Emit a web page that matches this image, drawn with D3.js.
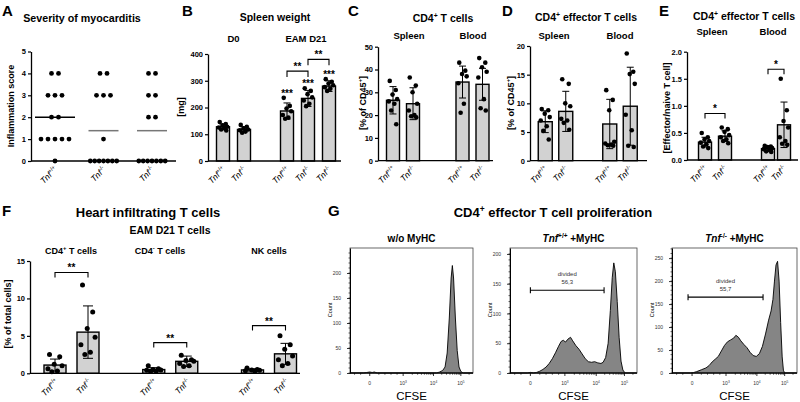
<!DOCTYPE html>
<html><head><meta charset="utf-8">
<script src="https://cdn.jsdelivr.net/npm/d3@7"></script>
<style>body{margin:0;background:#fff;}</style>
</head><body>
<svg id="fig" width="800" height="402"></svg>
<script>
// ---------------- DATA ----------------
// A: inflammation scores (individual animals)
const aGroups = ["g1", "g2", "g3"];
const aGeno = ["+/+", "-/-", "-/-"];
const aScores = [
  [4, 4, 3, 3, 3, 2, 2, 1, 1, 1, 1, 1, 0],
  [4, 4, 3, 3, 3, 1, 0, 0, 0, 0, 0, 0, 0],
  [4, 4, 3, 3, 2, 2, 0, 0, 0, 0, 0, 0, 0]
];
const aTicks = [0, 1, 2, 3, 4, 5];

// B: spleen weight [mg]
const bGroups = ["D0", "EAM D21"];
const bGroupOf = ["D0", "D0", "EAM D21", "EAM D21", "EAM D21"];
const bGeno = ["+/+", "-/-", "+/+", "-/-", "-/-"];
const bMean = [128, 118, 187, 234, 280];
const bSD = [10, 10, 30, 30, 20];
const bPoints = [
  [146, 138, 133, 128, 125, 122, 118, 114],
  [135, 128, 122, 118, 115, 110, 106],
  [236, 206, 196, 186, 172, 162, 158],
  [272, 262, 250, 238, 226, 214, 205],
  [306, 296, 290, 283, 276, 270, 262]
];
const bStars = ["", "", "***", "***", "***"];
const bSigFrom = [2, 3], bSigTo = [3, 4], bSigLevel = [336, 380], bSigLabel = ["**", "**"];
const bTicks = [0, 100, 200, 300, 400];

// C: CD4+ T cells [% of CD45+]
const cGroups = ["Spleen", "Blood"];
const cGroupOf = ["Spleen", "Spleen", "Blood", "Blood"];
const cGeno = ["+/+", "-/-", "+/+", "-/-"];
const cMean = [26.5, 25, 34.5, 33.5];
const cSD = [6, 7, 7, 7];
const cPoints = [
  [35, 31, 29, 27, 26, 25, 22, 16],
  [36.5, 33, 30, 25, 22, 20, 19.5, 19],
  [43, 39.5, 38, 37, 34, 25, 21],
  [45, 43, 41, 39, 36.5, 27, 23, 22]
];
const cTicks = [0, 10, 20, 30, 40, 50];

// D: CD4+ effector T cells [% of CD45+]
const dMean = [6.8, 8.6, 6.4, 9.5];
const dSD = [1.9, 3.5, 4.3, 6.8];
const dPoints = [
  [9.0, 8.8, 8.2, 7.6, 7.0, 6.0, 5.2, 3.7],
  [14.2, 13.4, 10.0, 9.5, 7.3, 7.0, 6.6, 5.4],
  [12.3, 10.6, 8.8, 3.3, 3.0, 2.8, 2.7, 2.6],
  [18.7, 15.5, 15.1, 13.4, 8.0, 5.3, 2.6, 2.4]
];
const dTicks = [0, 5, 10, 15, 20];

// E: effector / naive ratio
const eMean = [0.33, 0.44, 0.21, 0.65];
const eSD = [0.09, 0.1, 0.05, 0.42];
const ePoints = [
  [0.5, 0.42, 0.38, 0.35, 0.32, 0.29, 0.25, 0.22],
  [0.6, 0.57, 0.52, 0.46, 0.42, 0.38, 0.35, 0.31],
  [0.26, 0.25, 0.24, 0.22, 0.2, 0.18, 0.16, 0.15],
  [1.5, 0.92, 0.72, 0.6, 0.42, 0.35, 0.3, 0.28]
];
const eSigFrom = [0, 2], eSigTo = [1, 3], eSigLevel = [0.86, 1.675], eSigLabel = ["*", "*"];
const eTicks = [0, 0.5, 1.0, 1.5, 2.0];

// F: heart infiltrating cells [% of total cells]
const fGroups = ["CD4+", "CD4-", "NK"];
const fGroupOf = ["CD4+", "CD4+", "CD4-", "CD4-", "NK", "NK"];
const fGeno = ["+/+", "-/-", "+/+", "-/-", "+/+", "-/-"];
const fMean = [1.1, 5.5, 0.5, 1.6, 0.45, 2.6];
const fSD = [0.8, 3.5, 0.25, 0.7, 0.15, 1.4];
const fPoints = [
  [2.5, 2.2, 1.2, 1.0, 0.6, 0.3, 0.2],
  [11.8, 8.2, 6.0, 4.8, 3.8, 2.8, 2.5],
  [1.0, 0.6, 0.5, 0.45, 0.4, 0.3, 0.25],
  [2.4, 1.8, 1.7, 1.6, 1.3, 1.0, 0.9],
  [0.7, 0.5, 0.45, 0.4, 0.35, 0.3],
  [5.0, 3.8, 3.2, 2.3, 1.8, 1.3, 1.0]
];
const fSigFrom = [0, 2, 4], fSigTo = [1, 3, 5], fSigLevel = [13.47, 4.1, 6.37], fSigLabel = ["**", "**", "**"];
const fTicks = [0, 5, 10, 15];

// G: CFSE histograms  [position on biexponential axis, count]
const gTickPos = [0, 1.1, 2.1, 3.0];
const gTickLab = [["0", ""], ["10", "3"], ["10", "4"], ["10", "5"]];
const hist1 = [[-0.65,0],[-0.2,0],[-0.1,1],[0,2],[0.08,1],[0.15,2],[0.25,0],[2.2,0],[2.3,2],[2.4,5],[2.48,12],[2.55,40],[2.62,110],[2.68,190],[2.72,215],[2.76,190],[2.82,110],[2.88,45],[2.94,12],[3.0,3],[3.08,0],[3.4,0]];
const hist2 = [[-0.65,0],[-0.1,0],[0,1],[0.1,0],[0.2,1],[0.3,3],[0.4,6],[0.5,10],[0.6,16],[0.7,24],[0.8,34],[0.9,45],[0.98,53],[1.05,55],[1.12,52],[1.2,57],[1.28,60],[1.35,54],[1.45,46],[1.55,40],[1.65,32],[1.75,24],[1.85,19],[1.95,18],[2.05,19],[2.15,17],[2.25,16],[2.32,18],[2.4,26],[2.48,50],[2.55,105],[2.61,160],[2.66,185],[2.71,170],[2.77,120],[2.83,60],[2.89,20],[2.95,5],[3.02,0],[3.4,0]];
const hist3 = [[-0.65,0],[-0.05,0],[0.05,1],[0.15,3],[0.3,7],[0.45,11],[0.55,16],[0.65,24],[0.75,30],[0.85,36],[0.95,48],[1.05,60],[1.15,68],[1.25,72],[1.35,76],[1.42,82],[1.5,78],[1.58,70],[1.68,62],[1.78,55],[1.88,45],[1.98,38],[2.08,36],[2.18,42],[2.28,58],[2.38,85],[2.48,115],[2.56,135],[2.62,160],[2.67,200],[2.72,235],[2.77,243],[2.82,200],[2.87,110],[2.92,35],[2.96,6],[3.0,0],[3.4,0]];
const gYMax = [250, 210, 272];
const gYTicks = [[0,50,100,150,200],[0,50,100,150,200],[0,50,100,150,200,250]];
const gGate = [null, [0, 2.35, 139], [-0.13, 2.3, 165]];
const gDivided = [null, "56,3", "55,7"];

// ---------------- DRAWING ----------------
const FONT = "'Liberation Sans', Arial, Helvetica, sans-serif";
const svg = d3.select("#fig").attr("font-family", FONT);

function rich(sel, parts, size) {
  let shifted = false;
  parts.forEach(p => {
    const ts = sel.append("tspan").text(p.t);
    if (p.i) ts.attr("font-style", "italic");
    if (p.sup) { ts.attr("font-size", size * 0.65).attr("dy", -size * 0.4); shifted = true; }
    else if (shifted) { ts.attr("dy", size * 0.4); shifted = false; }
  });
}
function txt(parent, x, y, parts, size, opts = {}) {
  const t = parent.append("text").attr("x", x).attr("y", y).attr("font-size", size)
    .attr("text-anchor", opts.anchor || "middle")
    .attr("font-weight", opts.bold === false ? "normal" : "bold")
    .attr("fill", "#000");
  if (opts.rot) t.attr("transform", `rotate(${opts.rot},${x},${y})`);
  rich(t, typeof parts === "string" ? [{ t: parts }] : parts, size);
  return t;
}
function genoLabel(parent, x, y, sup) {
  const t = parent.append("text").attr("transform", `translate(${x},${y}) rotate(-45)`)
    .attr("text-anchor", "end").attr("font-size", 8.5).attr("fill", "#000");
  rich(t, [{ t: "Tnf", i: true }, { t: sup, sup: true }], 8.5);
}
function styleAxis(ga) {
  ga.select(".domain").attr("stroke-width", 1.3).attr("stroke", "#000");
  ga.selectAll(".tick line").attr("stroke-width", 1.2).attr("stroke", "#000");
  ga.selectAll(".tick text").attr("font-size", 7.5).attr("font-weight", "bold")
    .attr("font-family", FONT).attr("fill", "#000");
}
function bracket(g, x1, x2, yv, label, drop) {
  g.append("path").attr("d", `M${x1},${yv + drop}V${yv}H${x2}V${yv + drop}`)
    .attr("fill", "none").attr("stroke", "#000").attr("stroke-width", 1.1);
  g.append("text").attr("x", (x1 + x2) / 2).attr("y", yv - 1).attr("text-anchor", "middle")
    .attr("font-size", 10).attr("font-weight", "bold").text(label);
}

// Panel letters
[["A", 2, 16], ["B", 182, 16], ["C", 348, 16], ["D", 502, 16], ["E", 659, 16], ["F", 2, 216], ["G", 328, 216]]
  .forEach(([l, x, y]) => txt(svg, x, y, l, 15, { anchor: "start" }));

// ---------- Panel A ----------
(function () {
  const g = svg.append("g");
  const y = d3.scaleLinear().domain([0, 5]).range([161, 51.5]);
  const x = d3.scalePoint().domain(aGroups).range([55, 152]);
  const ga = g.append("g").attr("transform", "translate(31,0)")
    .call(d3.axisLeft(y).tickValues(aTicks).tickFormat(d3.format("d")).tickSize(3).tickSizeOuter(0).tickPadding(2));
  styleAxis(ga);
  g.append("line").attr("x1", 31).attr("x2", 176).attr("y1", y(0)).attr("y2", y(0)).attr("stroke", "#000").attr("stroke-width", 1.3);
  aScores.forEach((arr, gi) => {
    const cx = x(aGroups[gi]);
    const counts = d3.rollup(arr, v => v.length, d => d);
    counts.forEach((n, val) => {
      const sp = n >= 6 ? 4.4 : 7;
      for (let k = 0; k < n; k++) {
        g.append("circle").attr("cx", cx + (k - (n - 1) / 2) * sp).attr("cy", y(val)).attr("r", 2.4).attr("fill", "#000");
      }
    });
    const m = d3.mean(arr);
    g.append("line").attr("x1", cx - (gi === 0 ? 20 : 15)).attr("x2", cx + (gi === 0 ? 20 : 15))
      .attr("y1", y(m)).attr("y2", y(m)).attr("stroke", gi === 0 ? "#000" : "#777").attr("stroke-width", 1.5);
    genoLabel(g, cx + 3, 170, aGeno[gi]);
  });
  txt(g, 82, 22, "Severity of myocarditis", 10.7);
  txt(g, 14, 106, "Inflammation score", 9, { rot: -90 });
})();

// ---------- generic bar panel ----------
function barPanel(p) {
  const g = svg.append("g");
  const y = d3.scaleLinear().domain(p.yDomain).range(p.yRange);
  const outer = d3.scalePoint().domain(p.groups).range(p.groupRange);
  const xOf = i => {
    const grp = p.groupOf[i];
    const members = p.groupOf.map((gg, j) => gg === grp ? j : -1).filter(j => j >= 0);
    const half = (members.length - 1) / 2 * (p.steps ? p.steps[p.groups.indexOf(grp)] : p.step);
    const inner = d3.scalePoint().domain(members).range([-half, half]);
    return outer(grp) + inner(i);
  };
  const ga = g.append("g").attr("transform", `translate(${p.x0},0)`)
    .call(d3.axisLeft(y).tickValues(p.ticks).tickFormat(p.fmt || d3.format("d")).tickSize(3).tickSizeOuter(0).tickPadding(2));
  styleAxis(ga);
  p.means.forEach((m, i) => {
    const cx = xOf(i);
    g.append("rect").attr("x", cx - p.bw / 2).attr("y", y(m)).attr("width", p.bw).attr("height", y(0) - y(m))
      .attr("fill", "#d2d2d2").attr("stroke", "#000").attr("stroke-width", 1.4);
  });
  g.append("line").attr("x1", p.x0).attr("x2", p.x1).attr("y1", y(0)).attr("y2", y(0)).attr("stroke", "#000").attr("stroke-width", 1.3);
  const jit = [-3.5, 3, -0.5, 4.5, -4.5, 1.5, -2, 3.5, 0];
  p.points.forEach((arr, i) => {
    const cx = xOf(i);
    arr.forEach((v, j) => g.append("circle").attr("cx", cx + jit[j % jit.length] * p.bw / 14).attr("cy", y(v))
      .attr("r", p.r || 2.3).attr("fill", "#000"));
  });
  p.means.forEach((m, i) => {
    const cx = xOf(i), sd = p.sds[i], cw = p.cap || 3.5;
    g.append("line").attr("x1", cx).attr("x2", cx).attr("y1", y(Math.max(0, m - sd))).attr("y2", y(m + sd)).attr("stroke", "#000").attr("stroke-width", 1);
    [m + sd, m - sd].forEach(v => { if (v > 0) g.append("line").attr("x1", cx - cw).attr("x2", cx + cw).attr("y1", y(v)).attr("y2", y(v)).attr("stroke", "#000").attr("stroke-width", 1); });
    genoLabel(g, cx + (p.lx || 3), y(0) + 9, p.geno[i]);
  });
  if (p.stars) p.stars.forEach((s, i) => {
    if (!s) return;
    const top = d3.max([p.means[i] + p.sds[i], d3.max(p.points[i])]);
    g.append("text").attr("x", xOf(i)).attr("y", y(top) - 1).attr("text-anchor", "middle")
      .attr("font-size", 10).attr("font-weight", "bold").text(s);
  });
  if (p.sigFrom) p.sigFrom.forEach((f, k) => bracket(g, xOf(f), xOf(p.sigTo[k]), y(p.sigLevel[k]), p.sigLabel[k], p.drop || 6));
  return { g, y, xOf, outer };
}

// ---------- Panel B ----------
(function () {
  const P = barPanel({ groups: bGroups, groupOf: bGroupOf, groupRange: [233.5, 308], step: 21, bw: 13,
    yDomain: [0, 400], yRange: [161, 54], ticks: bTicks, x0: 208, x1: 341, means: bMean, sds: bSD, points: bPoints,
    geno: bGeno, stars: bStars, sigFrom: bSigFrom, sigTo: bSigTo, sigLevel: bSigLevel, sigLabel: bSigLabel });
  txt(P.g, 275, 21, "Spleen weight", 10.5);
  txt(P.g, 233.5, 42, "D0", 9.5);
  txt(P.g, 306, 42, "EAM D21", 9.5);
  txt(P.g, 184, 107, "[mg]", 9, { rot: -90 });
})();

// ---------- Panel C ----------
(function () {
  const P = barPanel({ groups: cGroups, groupOf: cGroupOf, groupRange: [403, 472.5], step: 20, bw: 13,
    yDomain: [0, 50], yRange: [160.7, 46.7], ticks: cTicks, x0: 378, x1: 493, means: cMean, sds: cSD, points: cPoints, geno: cGeno });
  txt(P.g, 443, 22, [{ t: "CD4" }, { t: "+", sup: true }, { t: " T cells" }], 10.5);
  txt(P.g, 409, 39, "Spleen", 9.5);
  txt(P.g, 473, 39, "Blood", 9.5);
  txt(P.g, 366, 103, [{ t: "[% of CD45" }, { t: "+", sup: true }, { t: "]" }], 9, { rot: -90 });
})();

// ---------- Panel D ----------
(function () {
  const P = barPanel({ groups: cGroups, groupOf: cGroupOf, groupRange: [555.5, 620], step: 20.5, bw: 14,
    yDomain: [0, 20], yRange: [160.7, 46], ticks: dTicks, x0: 530, x1: 647, means: dMean, sds: dSD, points: dPoints, geno: cGeno });
  txt(P.g, 586, 21, [{ t: "CD4" }, { t: "+", sup: true }, { t: " effector T cells" }], 10.5);
  txt(P.g, 554, 39, "Spleen", 9.5);
  txt(P.g, 620, 39, "Blood", 9.5);
  txt(P.g, 514, 103, [{ t: "[% of CD45" }, { t: "+", sup: true }, { t: "]" }], 9, { rot: -90 });
})();

// ---------- Panel E ----------
(function () {
  const P = barPanel({ groups: cGroups, groupOf: cGroupOf, groupRange: [715, 776], steps: [20, 16], bw: 13,
    yDomain: [0, 2], yRange: [160, 51.7], ticks: eTicks, fmt: d3.format(".1f"), x0: 687, x1: 798,
    means: eMean, sds: eSD, points: ePoints, geno: cGeno,
    sigFrom: eSigFrom, sigTo: eSigTo, sigLevel: eSigLevel, sigLabel: eSigLabel, drop: 5 });
  txt(P.g, 744, 20, [{ t: "CD4" }, { t: "+", sup: true }, { t: " effector T cells" }], 10.5);
  txt(P.g, 712, 35, "Spleen", 9.5);
  txt(P.g, 773, 35, "Blood", 9.5);
  txt(P.g, 670, 108, "[Effector/naive T cell]", 9, { rot: -90 });
})();

// ---------- Panel F ----------
(function () {
  const P = barPanel({ groups: fGroups, groupOf: fGroupOf, groupRange: [71.5, 269], step: 33, bw: 22, r: 2.5, cap: 5,
    yDomain: [0, 15], yRange: [373.3, 261], ticks: fTicks, x0: 30, x1: 300, means: fMean, sds: fSD, points: fPoints, geno: fGeno,
    sigFrom: fSigFrom, sigTo: fSigTo, sigLevel: fSigLevel, sigLabel: fSigLabel, drop: 5, lx: 4 });
  txt(P.g, 148, 217, "Heart infiltrating T cells", 13);
  txt(P.g, 170, 234, "EAM D21 T cells", 10.5);
  txt(P.g, 71, 254, [{ t: "CD4" }, { t: "+", sup: true }, { t: " T cells" }], 9);
  txt(P.g, 160, 254, [{ t: "CD4" }, { t: "-", sup: true }, { t: " T cells" }], 9);
  txt(P.g, 269, 254, "NK cells", 9);
  txt(P.g, 11, 314, "[% of total cells]", 9, { rot: -90 });
})();

// ---------- Panel G ----------
txt(svg, 553, 217, [{ t: "CD4" }, { t: "+", sup: true }, { t: " effector T cell proliferation" }], 13);
function histPanel(k, left, right, data, title) {
  const top = 248, bottom = 373;
  const g = svg.append("g");
  const x = d3.scaleLinear().domain([-0.65, 3.4]).range([left, right]);
  const y = d3.scaleLinear().domain([0, gYMax[k]]).range([bottom, top]);
  g.append("path").datum(data)
    .attr("d", d3.area().x(d => x(d[0])).y0(y(0)).y1(d => y(d[1])))
    .attr("fill", "#858585").attr("stroke", "#000").attr("stroke-width", 0.9);
  g.append("rect").attr("x", left).attr("y", top).attr("width", right - left).attr("height", bottom - top)
    .attr("fill", "none").attr("stroke", "#444").attr("stroke-width", 0.8);
  // y axis ticks
  const ay = g.append("g").attr("transform", `translate(${left},0)`)
    .call(d3.axisLeft(y).tickValues(gYTicks[k]).tickFormat(d3.format("d")).tickSize(3).tickSizeOuter(0).tickPadding(6));
  ay.select(".domain").attr("stroke", "#000").attr("stroke-width", 1);
  ay.selectAll(".tick line").attr("stroke", "#000").attr("stroke-width", 0.8);
  ay.selectAll(".tick text").attr("font-size", 5).attr("font-family", FONT).attr("fill", "#333");
  d3.range(0, gYMax[k], 10).forEach(v => g.append("line").attr("x1", left - 1.5).attr("x2", left).attr("y1", y(v)).attr("y2", y(v)).attr("stroke", "#000").attr("stroke-width", 0.6));
  // x axis
  g.append("line").attr("x1", left).attr("x2", right).attr("y1", bottom).attr("y2", bottom).attr("stroke", "#000").attr("stroke-width", 1);
  gTickPos.forEach((t, i) => {
    g.append("line").attr("x1", x(t)).attr("x2", x(t)).attr("y1", bottom).attr("y2", bottom + 3).attr("stroke", "#000").attr("stroke-width", 0.8);
    const tt = g.append("text").attr("x", x(t)).attr("y", bottom + 12).attr("text-anchor", "middle").attr("font-size", 5).attr("fill", "#333");
    rich(tt, gTickLab[i][1] ? [{ t: gTickLab[i][0] }, { t: gTickLab[i][1], sup: true }] : [{ t: gTickLab[i][0] }], 5);
    if (i > 0 && i < gTickPos.length - 1 || i === gTickPos.length - 1) {
      // minor log ticks above previous decade
    }
  });
  for (let i = 1; i < gTickPos.length - 1; i++) {
    for (let m = 2; m <= 9; m++) {
      const pos = gTickPos[i] + Math.log10(m) * (gTickPos[i + 1] - gTickPos[i]);
      g.append("line").attr("x1", x(pos)).attr("x2", x(pos)).attr("y1", bottom).attr("y2", bottom + 1.8).attr("stroke", "#000").attr("stroke-width", 0.6);
    }
  }
  for (let m = 2; m <= 4; m++) {
    const pos = gTickPos[3] + Math.log10(m) * (gTickPos[3] - gTickPos[2]);
    if (x(pos) < right) g.append("line").attr("x1", x(pos)).attr("x2", x(pos)).attr("y1", bottom).attr("y2", bottom + 1.8).attr("stroke", "#000").attr("stroke-width", 0.6);
  }
  [-0.5, -0.3, 0.3, 0.5, 0.7, 0.9].forEach(pos => g.append("line").attr("x1", x(pos)).attr("x2", x(pos)).attr("y1", bottom).attr("y2", bottom + 1.8).attr("stroke", "#000").attr("stroke-width", 0.6));
  // gate
  if (gGate[k]) {
    const [g0, g1, gy] = gGate[k];
    const yy = y(gy);
    g.append("path").attr("d", `M${x(g0)},${yy - 3}V${yy + 3}M${x(g0)},${yy}H${x(g1)}M${x(g1)},${yy - 3}V${yy + 3}`)
      .attr("stroke", "#000").attr("stroke-width", 1.1).attr("fill", "none");
    const cx = (x(g0) + x(g1)) / 2;
    g.append("text").attr("x", cx).attr("y", yy - 14).attr("text-anchor", "middle").attr("font-size", 6).attr("fill", "#333").text("divided");
    g.append("text").attr("x", cx).attr("y", yy - 6).attr("text-anchor", "middle").attr("font-size", 6).attr("fill", "#333").text(gDivided[k]);
  }
  txt(g, (left + right) / 2, 242, title, 10);
  txt(g, (left + right) / 2, 400, "CFSE", 11.5, { bold: false });
  txt(g, left - 18, 310, "Count", 5.5, { rot: -90, bold: false });
}
histPanel(0, 350, 473, hist1, "w/o MyHC");
histPanel(1, 510, 637, hist2, [{ t: "Tnf", i: true }, { t: "+/+", sup: true }, { t: " +MyHC" }]);
histPanel(2, 672, 797, hist3, [{ t: "Tnf", i: true }, { t: "-/-", sup: true }, { t: " +MyHC" }]);
</script>
</body></html>
